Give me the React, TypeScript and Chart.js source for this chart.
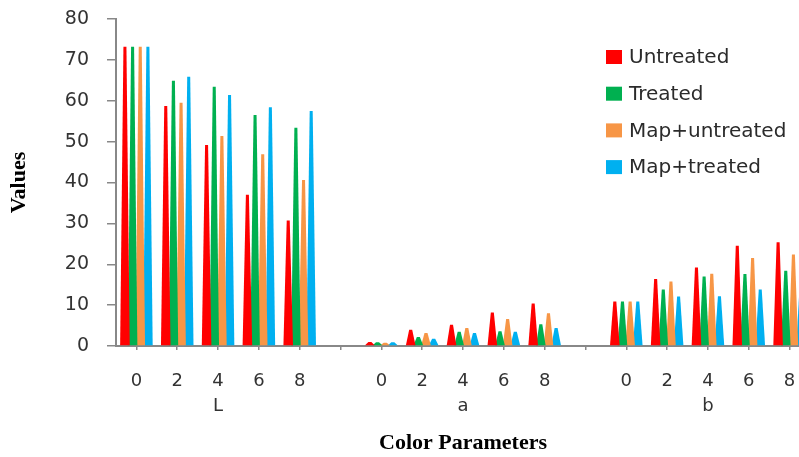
import React, { useEffect, useRef } from "react";
import { Chart, registerables } from "chart.js";

Chart.register(...registerables);

// ---- data ----
const levels = ["0", "2", "4", "6", "8"];
const groupNames = ["L", "a", "b"];
const seriesNames = ["Untreated", "Treated", "Map+untreated", "Map+treated"];
const seriesColors = ["#FF0000", "#00B050", "#F79646", "#00B0F0"];

// values per series, groups L | gap | a | gap | b
const untreated = [73.2, 58.7, 49.2, 37.0, 30.7, null, 1.0, 4.0, 5.2, 8.2, 10.4, null, 10.9, 16.4, 19.2, 24.5, 25.4];
const treated = [73.2, 64.9, 63.4, 56.5, 53.4, null, 0.9, 2.2, 3.5, 3.6, 5.3, null, 10.9, 13.8, 17.0, 17.6, 18.4];
const mapUntreated = [73.2, 59.5, 51.4, 46.9, 40.6, null, 0.8, 3.2, 4.4, 6.6, 8.0, null, 10.9, 15.8, 17.7, 21.5, 22.4];
const mapTreated = [73.2, 65.9, 61.4, 58.4, 57.5, null, 0.9, 1.8, 3.2, 3.5, 4.4, null, 10.9, 12.1, 12.2, 13.8, 14.5];

const yMin = 0;
const yMax = 80;
const yStep = 10;

// build category labels: levels per group, group name under middle level, empty gap slot between groups
const labels: (string | string[])[] = [];
groupNames.forEach((g, gi) => {
  levels.forEach((lv, li) => {
    labels.push(li === 2 ? [lv, g] : lv);
  });
  if (gi < groupNames.length - 1) labels.push("");
});

const seriesData = [untreated, treated, mapUntreated, mapTreated];

const conePlugin = {
  id: "cones",
  beforeDatasetDraw(chart: any, args: any) {
    const ctx = chart.ctx;
    const meta = args.meta;
    ctx.save();
    meta.data.forEach((el: any) => {
      if (el.skip) return;
      const p = el.getProps(["x", "y", "base", "width"], true);
      if (p.y == null || isNaN(p.y)) return;
      const bw = p.width * 1.25;
      const tw = 3;
      ctx.fillStyle = el.options.backgroundColor;
      ctx.beginPath();
      ctx.moveTo(p.x - bw / 2, p.base);
      ctx.lineTo(p.x - tw / 2, p.y);
      ctx.lineTo(p.x + tw / 2, p.y);
      ctx.lineTo(p.x + bw / 2, p.base);
      ctx.closePath();
      ctx.fill();
    });
    ctx.restore();
    return false;
  },
};

const legendPlugin = {
  id: "customLegend",
  afterDraw(chart: any) {
    const ctx = chart.ctx;
    ctx.save();
    const x0 = 606;
    const y0 = 57;
    const gap = 36.7;
    ctx.font = "20px 'DejaVu Sans'";
    ctx.textBaseline = "middle";
    ctx.textAlign = "left";
    chart.data.datasets.forEach((ds: any, i: number) => {
      const cy = y0 + i * gap;
      ctx.fillStyle = ds.backgroundColor;
      ctx.fillRect(x0, cy - 7, 16, 14);
      ctx.fillStyle = "#2b2b2b";
      ctx.fillText(ds.label, x0 + 23, cy + 1);
    });
    ctx.restore();
  },
};

export default function App() {
  const ref = useRef<HTMLCanvasElement | null>(null);

  useEffect(() => {
    if (!ref.current) return;
    const axisColor = "#888888";
    const chart = new Chart(ref.current, {
      type: "bar",
      data: {
        labels,
        datasets: seriesNames.map((name, i) => ({
          label: name,
          data: seriesData[i],
          backgroundColor: seriesColors[i],
          borderWidth: 0,
          categoryPercentage: 0.75,
          barPercentage: 1.0,
        })),
      },
      options: {
        animation: false,
        responsive: true,
        maintainAspectRatio: false,
        layout: { padding: { top: 19, left: 0, right: 0, bottom: 0 } },
        plugins: {
          legend: { display: false },
          tooltip: { enabled: false },
        },
        scales: {
          x: {
            type: "category",
            offset: true,
            afterFit: (scale: any) => {
              scale.height = 111;
              scale.paddingLeft = 0;
              scale.paddingRight = 0;
            },
            grid: {
              display: true,
              drawOnChartArea: false,
              drawTicks: true,
              offset: false,
              tickLength: 4,
              color: axisColor,
              lineWidth: 1.5,
            },
            border: { display: true, color: axisColor, width: 2 },
            ticks: {
              autoSkip: false,
              maxRotation: 0,
              minRotation: 0,
              padding: 19,
              color: "#333333",
              font: { family: "'DejaVu Sans'", size: 18, lineHeight: 1.39 },
            },
            title: {
              display: true,
              text: "Color Parameters",
              color: "#000000",
              font: { family: "'Liberation Serif'", size: 22, weight: "bold", lineHeight: 1.2 },
              padding: { top: 4, bottom: 0 },
            },
          },
          y: {
            min: yMin,
            max: yMax,
            afterFit: (scale: any) => {
              scale.width = 116;
              scale.paddingTop = 0;
              scale.paddingBottom = 0;
            },
            grid: {
              display: true,
              drawOnChartArea: false,
              drawTicks: true,
              tickLength: 9,
              color: axisColor,
              lineWidth: 1.5,
            },
            border: { display: true, color: axisColor, width: 2 },
            ticks: {
              stepSize: yStep,
              padding: 18,
              color: "#333333",
              font: { family: "'DejaVu Sans'", size: 19 },
            },
            title: {
              display: true,
              text: "Values",
              color: "#000000",
              font: { family: "'Liberation Serif'", size: 22, weight: "bold", lineHeight: 1.2 },
              padding: { top: 6, bottom: 0 },
            },
          },
        },
      },
      plugins: [conePlugin, legendPlugin],
    } as any);
    return () => chart.destroy();
  }, []);

  return (
    <div
      style={{
        position: "fixed",
        left: 0,
        top: 0,
        width: 799,
        height: 457,
        overflow: "hidden",
        background: "#ffffff",
      }}
    >
      <div style={{ position: "relative", width: 810, height: 457 }}>
        <canvas ref={ref} />
      </div>
    </div>
  );
}
